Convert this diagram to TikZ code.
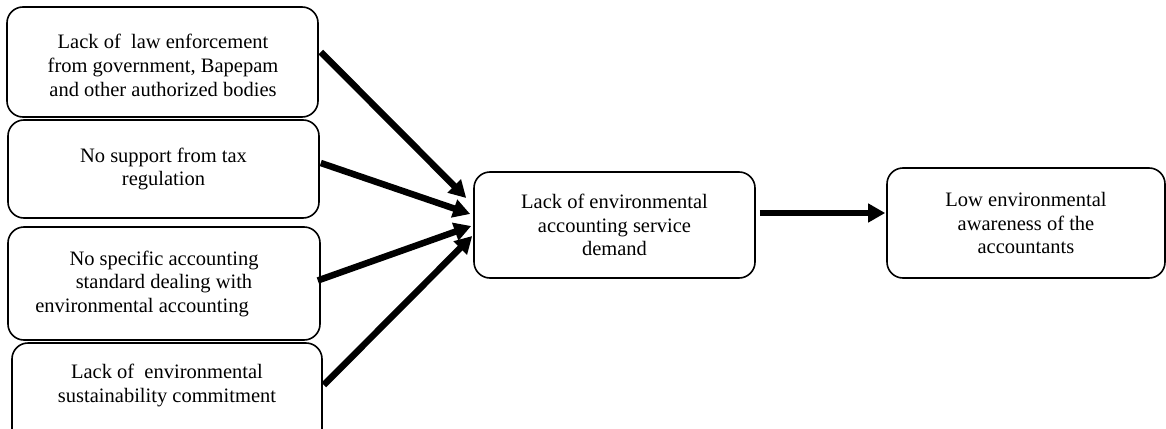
\documentclass[tikz,border=0pt]{standalone}
\usepackage{fontspec}
\setmainfont{Liberation Serif}
\usetikzlibrary{arrows.meta,calc}
\begin{document}
\begin{tikzpicture}[x=1pt,y=-1pt,
  box/.style={draw, line width=1.6pt, rounded corners=16pt, align=center,
    font=\fontsize{20.5}{23.5}\selectfont, inner sep=0pt},
  txt/.style={align=center, font=\fontsize{20.5}{24}\selectfont, inner sep=0pt},
  conn/.style={line width=6.5pt, -{Triangle[length=17pt,width=18pt]}}
]
\useasboundingbox (0,0) rectangle (1166,428);
\clip (0,0) rectangle (1166,428);

\node[box, minimum width=311pt, minimum height=110pt] (b1) at (162.5,62) {};
\node[txt] (t1) at (163,65)
  {Lack of\ \ law enforcement\\from government, Bapepam\\and other authorized bodies};
\node[box, minimum width=311pt, minimum height=98pt] (b2) at (163.5,169)
  {No support from tax\\regulation};
\node[box, minimum width=312pt, minimum height=113pt] (b3) at (164,283.5)
  {No specific accounting\\standard dealing with\\environmental accounting\hspace*{44pt}};
\node[box, minimum width=310pt, minimum height=102pt] (b4) at (167,394) {};
\node[txt] (t4) at (167,385) {Lack of\ \ environmental\\sustainability commitment};

\node[box, minimum width=281pt, minimum height=106pt] (c) at (614.5,225)
  {Lack of environmental\\accounting service\\demand};
\node[box, minimum width=278pt, minimum height=110pt] (r) at (1026,223)
  {Low environmental\\awareness of the\\accountants};

\draw[conn] ($(b1.east)+(2,-10)$) -- ($(c.west)+(-7,-27)$);
\draw[conn] ($(b2.east)+(1,-6)$) -- ($(c.west)+(-3,-11)$);
\draw[conn] ($(b3.east)+(-3,-3)$) -- ($(c.west)+(-2,1)$);
\draw[conn] ($(b4.east)+(1,-9)$) -- ($(c.west)+(-1,11)$);
\draw[conn] ($(c.east)+(4,-12)$) -- ($(r.west)+(-1,-10)$);
\end{tikzpicture}
\end{document}
